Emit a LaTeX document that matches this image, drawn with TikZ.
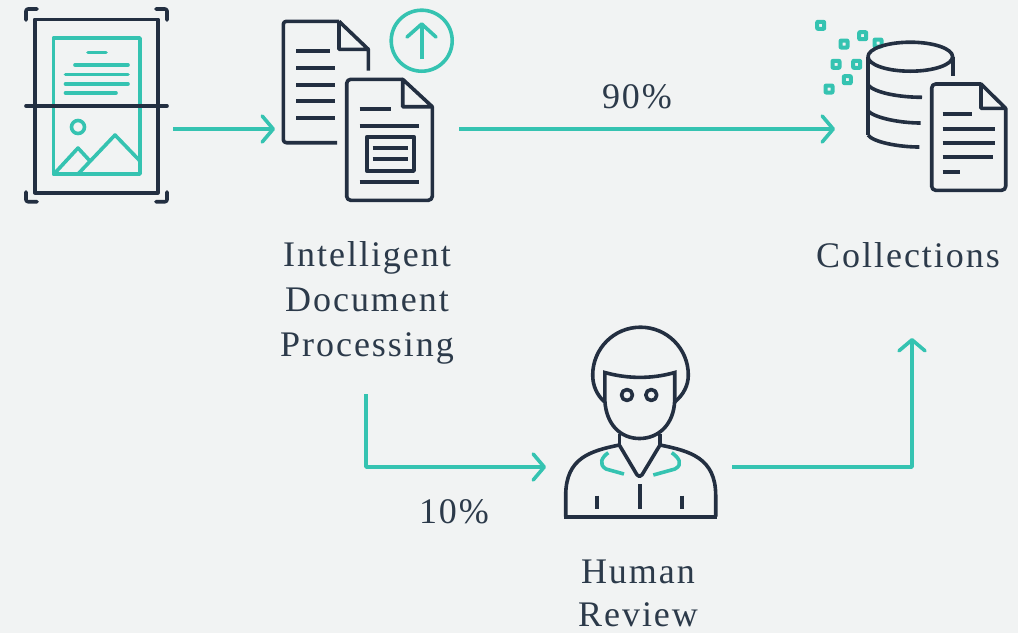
\documentclass[tikz,border=0pt]{standalone}
\usepackage{fontspec}
\setmainfont[LetterSpace=5.5]{Liberation Serif}
\usetikzlibrary{arrows.meta}
\definecolor{bgc}{HTML}{F1F3F3}
\definecolor{ink}{HTML}{232F41}
\definecolor{teal}{HTML}{35C3B1}
\definecolor{txt}{HTML}{2C3A4A}
\tikzset{
  icon/.style={draw=ink,line width=3.6pt,line join=round},
  lin/.style={draw=ink,line width=3.6pt},
  tl/.style={draw=teal,line width=3.6pt,line cap=round,line join=round},
  flow/.style={draw=teal,line width=3.6pt,line join=round,-{Straight Barb[length=11pt,width=26pt,round]}},
  lab/.style={font=\fontsize{36}{45}\selectfont,text=txt,align=center,inner sep=0pt},
  dot/.style={draw=teal,line width=4pt,rounded corners=0.5pt,line join=round}
}
\begin{document}
\begin{tikzpicture}[x=1pt,y=-1pt]
\path[use as bounding box,fill=bgc] (0,0) rectangle (1018,633);
% scanner
\draw[tl] (53.3,38) rectangle (140,174);
\draw[tl] (88,52.5)--(106,52.5) (75,65)--(128,65) (65.5,74.5)--(128,74.5) (65.5,84)--(128,84) (65.5,93)--(116,93);
\draw[tl] (78,127) circle (6.5);
\draw[tl] (54,174)--(78,148)--(90,161) (78,174)--(115,135)--(140,161);
\draw[icon] (34.7,19.3) rectangle (158,192.7);
\draw[icon,line cap=round,rounded corners=2pt] (26,20)--(26,9)--(37,9) (156,9)--(167,9)--(167,20) (26,192)--(26,201.7)--(37,201.7) (156,201.7)--(167,201.7)--(167,192);
\draw[icon,line cap=round] (26,106)--(167,106);
% documents
\draw[icon,rounded corners=3pt] (337,142.7)--(283.3,142.7)--(283.3,21.3)--(339,21.3);
\draw[icon] (339,21.3)--(368.3,49.3)--(368.3,70.7) (339,21.3)--(339,49.3)--(368.3,49.3);
\draw[lin] (296,51)--(330,51) (296,68)--(335,68) (296,85)--(335,85) (296,101)--(335,101) (296,118)--(335,118);
\draw[icon,rounded corners=4pt] (402.7,79.3)--(346.7,79.3)--(346.7,200.3)--(432.3,200.3)--(432.3,106.7);
\draw[icon] (402.7,79.3)--(432.3,106.7)--(402.7,106.7)--cycle;
\draw[lin] (359.7,109)--(391,109) (359.7,126)--(419.3,126) (359.7,181.7)--(419.3,181.7) (372.7,148)--(408,148) (372.7,159)--(408,159);
\draw[icon] (366.7,136.7) rectangle (414,171);
\draw[tl] (421.7,40.7) circle (30.5);
\draw[draw=teal,line width=3.6pt] (421.7,59)--(421.7,24);
\draw[tl] (407,37)--(421.7,24)--(436,37);
% collections
\foreach \p in {(820.7,25.3),(844,44),(862.7,35.7),(878,43),(836,64.3),(856.7,64.3),(847.3,79.7),(829,89)}{
  \draw[dot] \p ++(-3.5,-3.5) rectangle ++(7,7);
}
\draw[icon] (910.3,56.7) ellipse (42.3 and 14.5);
\draw[icon] (868,56.7)--(868,135) (953,56.7)--(953,75.7);
\draw[icon] (868,85) .. controls (875,93) and (900,97.3) .. (922,97.3);
\draw[icon] (868,111) .. controls (875,118) and (900,123) .. (920.7,123);
\draw[icon] (868,135) .. controls (873,142) and (898,147) .. (919.3,147);
\draw[icon,rounded corners=4pt] (981,84)--(931.7,84)--(931.7,190.3)--(1005.7,190.3)--(1005.7,108.3);
\draw[icon] (981,84)--(1005.7,108.3)--(981,108.3)--cycle;
\draw[lin] (942.7,114)--(972,114) (942.7,128.7)--(994.7,128.7) (942.7,143)--(994.7,143) (942.7,157)--(993.3,157) (942.7,172)--(960.3,172);
% person
\draw[icon] (604.3,401.7) .. controls (597,395) and (592.7,386) .. (592.7,375) .. controls (592.7,348.6) and (614,327.2) .. (640.5,327.2) .. controls (667,327.2) and (688.3,348.6) .. (688.3,375) .. controls (688.3,386) and (683,395) .. (675,401.7);
\draw[icon,line join=miter] (604.8,372.5) .. controls (628,379) and (652,379) .. (674.7,372.5) -- (674.7,400) .. controls (674,425) and (658,438.5) .. (639.5,438.5) .. controls (621,438.5) and (606,425) .. (604.8,400) -- cycle;
\draw[icon] (627,395) circle (5.5) (651.3,395) circle (5.5);
\draw[icon] (619.3,434)--(619.3,445) (660,434)--(660,445);
\draw[icon,rounded corners=5pt] (619.3,445)--(639.5,479)--(660,445);
\draw[icon] (619.3,445) .. controls (590,451) and (566,458) .. (565.7,495) -- (565.7,516.7) (660,445) .. controls (690,451) and (715.5,458) .. (715.7,495) -- (715.7,516.7);
\draw[draw=ink,line width=4.2pt] (564,516.7)--(717.4,516.7);
\draw[lin] (597,495.7)--(597,509.3) (681.7,495.7)--(681.7,509.3) (639.7,484)--(639.7,509.3);
\draw[draw=teal,line width=3.6pt,line join=round] (608.3,452.7) .. controls (602,457) and (598,464) .. (606,469) -- (624,474);
\draw[draw=teal,line width=3.6pt,line join=round] (671.7,452.7) .. controls (678,457) and (684,464) .. (675,469) -- (653.3,475);
% labels
\node[lab] (idp) at (367,302.5) {Intelligent\\Document\\Processing};
\node[lab] (coll) at (908,255) {Collections};
\node[lab] (human) at (638,593.5) {Human\\[-1.5pt]Review};
\node[lab] (ninety) at (637,97) {90\%};
\node[lab] (ten) at (454,512) {10\%};
% connector ports
\coordinate (scanOut) at (173,129);
\coordinate (docIn) at (275,129);
\coordinate (docOut) at (459,129);
\coordinate (dbIn) at (835,129);
\coordinate (idpOut) at (366,394);
\coordinate (personIn) at (546,467);
\coordinate (personOut) at (732,467);
\coordinate (collIn) at (912,338);
\draw[flow] (scanOut)--(docIn);
\draw[flow] (docOut)--(dbIn);
\draw[flow] (idpOut)|-(personIn);
\draw[flow] (personOut)-|(collIn);
\end{tikzpicture}
\end{document}
